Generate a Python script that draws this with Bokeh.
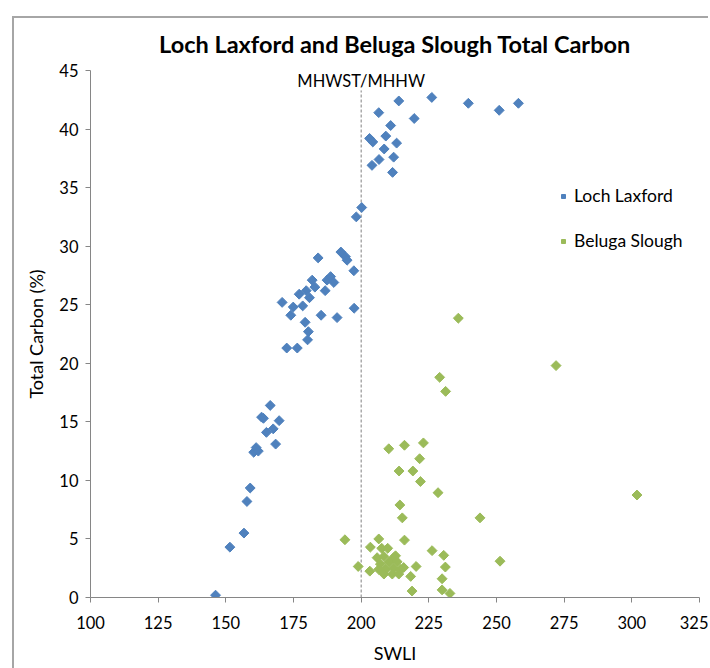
from bokeh.plotting import figure
from bokeh.models import Range1d, FixedTicker, Legend, LegendItem, Label
from bokeh.embed import file_html
from bokeh.resources import INLINE
import numpy as np

# ---- data ----
laxford_swli = [146.2, 151.5, 156.7, 157.8, 159.0, 160.3, 161.2, 162.0, 163.2, 163.9,
                165.0, 166.4, 167.5, 168.4, 169.7, 170.8, 172.5, 174.0, 174.9, 176.4,
                177.1, 178.4, 179.3, 179.7, 180.2, 180.5, 180.9, 181.9, 182.9, 184.1,
                185.2, 186.7, 187.4, 188.7, 189.9, 191.1, 192.5, 194.2, 194.8, 197.3,
                197.4, 198.2, 200.2, 203.1, 204.0, 204.3, 206.5, 206.6, 208.5, 209.1,
                210.9, 211.6, 212.0, 213.1, 213.9, 219.6, 226.1, 239.6, 251.0, 258.1]
laxford_tc = [0.2, 4.3, 5.5, 8.2, 9.35, 12.4, 12.8, 12.5, 15.4, 15.3,
              14.1, 16.4, 14.4, 13.1, 15.1, 25.2, 21.3, 24.1, 24.8, 21.3,
              25.9, 24.9, 23.5, 26.2, 22.0, 22.7, 25.6, 27.1, 26.5, 29.0,
              24.1, 26.2, 27.1, 27.4, 26.9, 23.9, 29.5, 29.1, 28.8, 27.9,
              24.7, 32.5, 33.3, 39.2, 36.9, 38.9, 41.4, 37.4, 38.3, 39.4,
              40.3, 36.3, 37.6, 38.8, 42.4, 40.9, 42.7, 42.2, 41.6, 42.2]

beluga_swli = [194.0, 198.9, 203.2, 203.4, 206.5, 207.6, 209.8, 210.2, 214.0, 214.3,
               215.2, 216.0, 216.0, 218.3, 218.8, 219.1, 220.3, 221.6, 221.9, 223.0,
               226.2, 228.4, 229.0, 229.9, 229.9, 230.5, 231.1, 231.2, 232.8, 235.9,
               243.9, 251.3, 272.0, 301.9,
               205.9, 208.4, 212.0, 207.1, 210.2, 213.3, 215.7, 206.5, 209.0, 212.0,
               214.5, 208.4, 211.5, 213.9, 212.7]
beluga_tc = [4.93, 2.65, 2.25, 4.3, 5.0, 4.2, 4.2, 12.7, 10.8, 7.9,
             6.8, 13.0, 4.9, 1.8, 0.55, 10.8, 2.65, 11.85, 9.9, 13.2,
             4.0, 8.95, 18.8, 1.6, 0.65, 3.6, 2.6, 17.6, 0.35, 23.85,
             6.8, 3.1, 19.8, 8.75,
             3.4, 3.5, 3.4, 2.85, 3.0, 3.05, 2.56, 2.4, 2.4, 2.5,
             2.4, 2.0, 2.0, 2.0, 3.56]

x_ticks = [100, 125, 150, 175, 200, 225, 250, 275, 300, 325]
y_ticks = [0, 5, 10, 15, 20, 25, 30, 35, 40, 45]
mhw_swli = 200
mhw_top = 43.3
mhw_label_y = 44.1
mhw_label = "MHWST/MHHW"

FONT = "Lato"
BLUE = "#4F81BD"
GREEN = "#9BBB59"
AXIS = "#868686"
BORDER = "#A6A6A6"

p = figure(width=708, height=668, output_backend="svg", toolbar_location=None,
           x_range=Range1d(100, 325), y_range=Range1d(0, 45),
           title="Loch Laxford and Beluga Slough Total Carbon",
           min_border_left=90, min_border_right=9, min_border_top=70,
           min_border_bottom=71)

p.title.align = "center"
p.title.offset = -7
p.title.text_font = FONT
p.title.text_font_size = "23.5px"
p.title.text_font_style = "bold"
p.title.text_color = "#000000"
p.title.standoff = 25

p.outline_line_color = None
p.grid.visible = False
p.background_fill_color = "white"
p.border_fill_color = None
# chart-area border (left and top edges), drawn behind the transparent canvas border
p.styles = {
    "background": (f"linear-gradient({BORDER},{BORDER}) 12px 16px / 2px 100% no-repeat, "
                   f"linear-gradient({BORDER},{BORDER}) 12px 16px / 100% 2px no-repeat, "
                   "white"),
}

for ax in (p.xaxis[0], p.yaxis[0]):
    ax.axis_line_color = AXIS
    ax.major_tick_line_color = AXIS
    ax.minor_tick_line_color = None
    ax.major_tick_out = 5
    ax.major_tick_in = 0
    ax.major_label_text_font = FONT
    ax.major_label_text_font_size = "16.5px"
    ax.major_label_text_color = "#000000"
    ax.axis_label_text_font = FONT
    ax.axis_label_text_font_size = "18px"
    ax.axis_label_text_font_style = "normal"
    ax.axis_label_text_color = "#000000"

p.xaxis.ticker = FixedTicker(ticks=x_ticks)
p.yaxis.ticker = FixedTicker(ticks=y_ticks)
p.xaxis.axis_label = "SWLI"
p.yaxis.axis_label = "Total Carbon (%)"
p.xaxis.major_label_standoff = 13
p.yaxis.major_label_standoff = 7
p.xaxis.axis_label_standoff = 10
p.yaxis.axis_label_standoff = 9

# reference line
p.segment(x0=[mhw_swli], y0=[0], x1=[mhw_swli], y1=[mhw_top],
          line_color="#808080", line_dash="3 2", line_width=1)
p.add_layout(Label(x=mhw_swli, y=mhw_label_y, text=mhw_label,
                   text_font=FONT, text_font_size="16.5px", text_align="center",
                   text_baseline="middle", text_color="#000000"))

r1 = p.scatter(laxford_swli, laxford_tc, marker="square", angle=np.pi / 4,
               size=7, fill_color=BLUE, line_color=BLUE)
r2 = p.scatter(beluga_swli, beluga_tc, marker="square", angle=np.pi / 4,
               size=7, fill_color=GREEN, line_color=GREEN)

legend = Legend(items=[LegendItem(label="Loch Laxford", renderers=[r1]),
                       LegendItem(label="Beluga Slough", renderers=[r2])],
                location=(468, 346), border_line_color=None,
                background_fill_alpha=0, padding=0, margin=0, spacing=24,
                label_height=20, glyph_height=20, glyph_width=10,
                label_standoff=6, label_text_font=FONT,
                label_text_font_size="17.5px", label_text_color="#000000")
p.add_layout(legend)

open("out.html", "w").write(file_html(p, INLINE))
